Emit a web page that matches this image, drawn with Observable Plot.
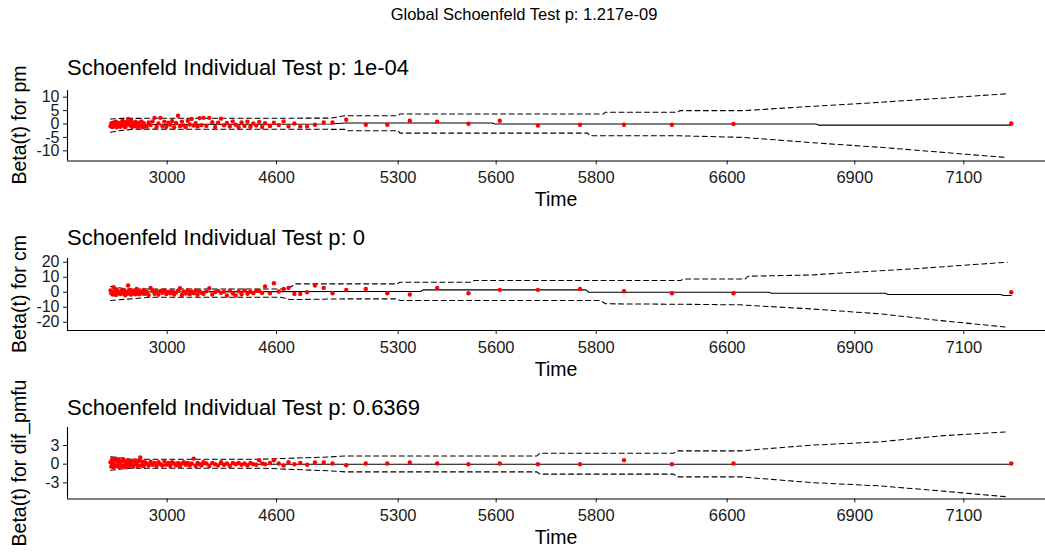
<!DOCTYPE html>
<html><head><meta charset="utf-8">
<script src="https://cdn.jsdelivr.net/npm/d3@7"></script>
<script src="https://cdn.jsdelivr.net/npm/@observablehq/plot@0.6"></script>
<style>
body{margin:0;background:#fff;}
#root{position:relative;width:1045px;height:552px;overflow:hidden;font-family:"Liberation Sans",Arial,sans-serif;background:#fff;color:#000;}
.abs{position:absolute;white-space:nowrap;line-height:1;}
#root svg{position:absolute;left:0;background:transparent !important;overflow:visible;}
</style></head><body><div id="root"></div>
<script>
// transformed (KM-scale) event times, 0..100 spans the panel width
const times = [4.40,4.48,4.56,4.64,4.72,4.80,4.88,4.96,5.04,5.12,
 5.20,5.30,5.40,5.50,5.60,5.70,5.80,5.90,6.00,6.10,
 6.20,6.30,6.40,6.50,6.60,6.72,6.84,6.96,7.08,7.20,
 7.32,7.44,7.56,7.68,7.80,7.92,
 8.10,8.30,8.50,8.70,8.90,9.10,9.30,9.50,9.70,9.90,
 10.10,10.30,10.50,10.70,10.90,11.10,11.30,11.50,11.70,11.90,
 12.10,12.30,12.50,12.70,12.90,13.10,13.30,13.50,13.70,13.90,
 14.2,14.5,14.8,15.1,15.4,15.7,16.0,16.3,16.6,16.9,
 17.2,17.5,17.8,18.1,18.4,18.7,19.0,19.3,19.6,19.9,
 20.2,20.7,21.1,21.6,22.1,22.6,23.2,23.8,24.5,25.3,
 26.2,27.1,28.5,30.5,32.7,35.0,37.8,41.0,44.2,48.1,
 52.4,56.9,61.8,68.1,96.5];

const residPm = [-0.8,0.3,-1.1,-0.4,0.6,-0.9,-0.2,0.9,-1.2,-0.5,
 0.4,-0.7,-1.0,0.2,1.1,-0.6,0.8,-1.2,-0.3,0.7,
 1.9,0.1,-0.5,1.3,-1.1,0.4,-0.8,0.8,-0.2,-1.0,
 0.5,-0.6,1.0,-1.2,0.3,-0.8,
 -0.9,0.6,-0.4,1.0,2.3,-1.1,0.2,2.3,-0.7,0.9,
 -1.0,0.5,-0.3,1.1,-1.2,0.4,3.1,-0.8,0.9,-0.5,
 -1.1,1.2,-0.2,1.9,-0.6,0.3,-0.9,2.2,-0.4,2.3,
 -0.7,2.3,0.7,-1.1,0.5,2.0,-0.5,0.4,-0.9,1.0,
 -0.3,-1.2,0.6,-0.7,0.9,-1.0,0.2,-0.6,0.8,-1.1,
 0.3,-0.8,0.5,-0.4,1.0,-0.9,0.2,-0.9,-0.9,-0.3,
 0.6,0.6,1.6,-0.3,-0.3,1.2,0.9,0.1,1.2,-0.6,
 -0.3,-0.3,-0.3,0.0,0.2];

const residCm = [1.2,-0.8,0.4,-1.5,3.3,-0.3,0.9,-1.8,1.8,-0.6,
 0.2,-0.6,-1.2,1.0,0.6,-0.9,1.4,-2.0,0.3,-1.1,
 4.5,-0.4,1.5,-1.6,0.7,-0.9,1.2,-1.3,2.2,0.5,
 -1.4,0.5,-0.5,-0.8,1.6,-1.0,
 0.2,-1.9,2.9,1.1,-1.0,0.6,-1.6,0.9,-0.3,1.3,
 -1.2,0.4,-0.7,0.8,-1.5,-0.2,1.0,2.7,-1.8,0.5,
 -0.9,1.4,-1.3,0.3,-0.6,1.2,-1.7,0.8,-0.4,-1.1,
 0.6,2.7,-1.5,0.2,0.9,-0.4,0.4,-2.2,1.1,-0.8,
 -2.2,0.6,-1.3,1.2,-1.0,0.3,-0.6,1.0,0.8,-0.5,
 3.8,-0.7,6.0,0.5,2.2,2.9,-1.1,-1.1,0.0,4.5,
 2.9,-0.7,1.6,2.2,-0.7,-1.5,2.9,-0.7,1.6,1.6,
 2.2,0.7,-0.7,-0.7,0.0];

const residDif = [0.3,-0.4,0.8,0.1,-0.5,0.6,-0.2,0.9,-0.3,0.4,
 0.7,-0.5,0.2,0.5,-0.3,0.8,-0.2,0.4,-0.5,0.6,
 0.1,-0.3,0.5,-0.1,0.4,-0.4,0.6,0.3,0.0,-0.3,
 0.5,1.07,-0.2,0.4,-0.3,0.3,
 0.1,-0.2,0.4,-0.1,0.2,-0.3,0.3,0.0,-0.2,0.5,
 -0.1,0.2,-0.3,0.3,0.1,-0.2,0.2,-0.3,0.1,0.3,
 -0.1,0.2,-0.2,0.1,0.9,-0.3,0.2,0.0,-0.2,0.3,
 0.1,-0.3,0.2,0.0,-0.2,0.3,-0.1,0.1,-0.3,0.2,
 0.0,0.2,-0.1,0.1,-0.2,0.2,0.0,-0.1,0.64,0.1,
 0.0,0.2,0.64,0.1,-0.2,0.3,0.0,0.2,-0.1,0.27,
 0.27,0.1,-0.16,0.1,0.1,0.27,0.1,0.0,0.1,0.0,
 0.0,0.64,0.0,0.1,0.1];

const tickPos = [10.19, 21.37, 33.81, 43.83, 54.06, 67.45, 80.50, 91.65];
const tickLabels = ["3000","4600","5300","5600","5800","6600","6900","7100"];

// smoothed beta(t) and its confidence band, [time, value]
const fitPm = [[4.4,-0.2],[26.9,0.0],[28.4,0.4],[43.4,0.4],[43.7,0.0],[76.5,0.0],[76.8,-0.4],[96.5,-0.4]];
const hiPm = [[4.4,1.9],[5.5,2.1],[26.9,2.2],[28.4,3.1],[33.8,3.1],[34.0,3.75],[54.8,3.75],[55.0,4.4],[62.4,4.4],[62.6,5.0],[69.1,5.0],[76.3,6.6],[83.5,8.2],[90.9,10.0],[96.1,11.3]];
const loPm = [[4.4,-3.1],[5.5,-2.4],[7.0,-1.9],[28.4,-2.0],[28.6,-2.5],[33.8,-2.5],[34.0,-3.4],[53.2,-3.4],[53.4,-4.4],[62.6,-4.4],[69.1,-5.0],[76.3,-7.0],[83.5,-8.8],[90.9,-11.0],[96.1,-12.5]];

const fitCm = [[4.4,0.2],[28.4,0.5],[36.1,0.5],[36.4,1.6],[53.0,1.6],[53.3,0.0],[71.7,0.0],[72.0,-0.7],[83.6,-0.7],[83.9,-1.5],[95.4,-1.5],[95.7,-2.2],[96.5,-2.2]];
const hiCm = [[4.4,3.8],[6.0,2.2],[22.5,2.2],[23.3,5.6],[33.7,5.6],[34.0,6.7],[41.2,6.7],[41.6,7.8],[62.7,7.8],[63.0,8.9],[69.3,8.9],[69.6,10.7],[76.0,11.5],[80.4,13.3],[87.4,16.0],[93.6,18.9],[96.1,20.0]];
const loCm = [[4.4,-5.5],[8.5,-3.3],[21.8,-3.3],[22.8,-4.9],[28.4,-4.4],[33.7,-4.4],[34.0,-5.5],[54.5,-5.5],[55.0,-7.7],[62.7,-8.0],[68.8,-8.4],[76.0,-11.1],[83.1,-14.4],[89.3,-18.9],[96.1,-23.3]];

const fitDif = [[4.4,0.0],[96.5,0.0]];
const hiDif = [[4.4,1.2],[6.5,0.8],[19.8,0.8],[26.9,1.17],[28.4,1.33],[48.0,1.33],[48.3,1.77],[62.0,1.77],[62.3,2.14],[68.8,2.14],[76.0,3.05],[83.1,3.6],[89.3,4.55],[96.1,5.2]];
const loDif = [[4.4,-0.96],[6.5,-0.64],[19.8,-0.64],[26.9,-1.08],[28.4,-1.24],[48.0,-1.24],[48.3,-1.6],[62.0,-1.6],[62.3,-2.04],[68.8,-2.04],[76.0,-2.95],[83.1,-3.5],[89.3,-4.3],[96.1,-5.25]];

const panels = [
  {name:"pm", p:"1e-04", resid:residPm, fit:fitPm, hi:hiPm, lo:loPm, yDomain:[-13.8,12.5], yTicks:[-10,-5,0,5,10], plotTop:90, plotH:70.5, titleBase:76},
  {name:"cm", p:"0", resid:residCm, fit:fitCm, hi:hiCm, lo:loCm, yDomain:[-25.5,22.5], yTicks:[-20,-10,0,10,20], plotTop:258, plotH:72, titleBase:245.8},
  {name:"dif_pmfu", p:"0.6369", resid:residDif, fit:fitDif, hi:hiDif, lo:loDif, yDomain:[-5.6,5.9], yTicks:[-3,0,3], plotTop:427, plotH:71.5, titleBase:415.8}
];

const root = document.getElementById("root");
const FONT = '"Liberation Sans", Arial, sans-serif';
const labelOf = new Map(tickPos.map((p,i)=>[p, tickLabels[i]]));
const W = 1045, ML = 67, MR = 0, MT = 5, MB = 60;
const toObj = a => a.map(([t,v]) => ({t, v}));

function addText(txt, css){
  const d = document.createElement("div");
  d.className = "abs";
  d.textContent = txt;
  Object.assign(d.style, css);
  root.appendChild(d);
  return d;
}

for (const cfg of panels) {
  const pts = times.map((t,i) => ({t, r: cfg.resid[i]}));
  const svg = Plot.plot({
    width: W, height: cfg.plotH + MT + MB,
    marginLeft: ML, marginRight: MR, marginTop: MT, marginBottom: MB,
    style: {fontFamily: FONT, fontSize: "16px", background: "transparent", overflow: "visible"},
    x: {domain: [0, 100]},
    y: {domain: cfg.yDomain},
    marks: [
      Plot.axisX({ticks: tickPos, tickFormat: d => labelOf.get(d), tickSize: 4, tickPadding: 6.5, fontSize: 16.5, color: "#1a1a1a", label: null}),
      Plot.axisY({ticks: cfg.yTicks, tickFormat: d => String(d), tickSize: 4, tickPadding: 4, fontSize: 16, color: "#1a1a1a", label: null}),
      Plot.ruleY([cfg.yDomain[0]], {stroke: "#000", strokeWidth: 1.1}),
      Plot.ruleX([0], {stroke: "#000", strokeWidth: 1.1}),
      Plot.line(toObj(cfg.hi), {x: "t", y: "v", stroke: "#000", strokeWidth: 1.05, strokeDasharray: "5,3.5"}),
      Plot.line(toObj(cfg.lo), {x: "t", y: "v", stroke: "#000", strokeWidth: 1.05, strokeDasharray: "5,3.5"}),
      Plot.line(toObj(cfg.fit), {x: "t", y: "v", stroke: "#000", strokeWidth: 1.1}),
      Plot.dot(pts, {x: "t", y: "r", r: 2.2, fill: "#FF0000", stroke: "none"})
    ]
  });
  svg.style.top = (cfg.plotTop - MT) + "px";
  root.appendChild(svg);

  const plotBottom = cfg.plotTop + cfg.plotH;
  addText("Schoenfeld Individual Test p: " + cfg.p, {left: "67px", top: (cfg.titleBase - 0.8465*22) + "px", fontSize: "22px"});
  addText("Time", {left: "556px", top: (plotBottom + 46.5 - 0.8465*19.5) + "px", fontSize: "19.5px", transform: "translateX(-50%)"});
  addText("Beta(t) for " + cfg.name, {left: "19.5px", top: (cfg.plotTop + cfg.plotH/2) + "px", fontSize: "19.5px", transform: "translate(-50%,-50%) rotate(-90deg)"});
}
addText("Global Schoenfeld Test p: 1.217e-09", {left: "524px", top: (20 - 0.8465*16.5) + "px", fontSize: "16.5px", transform: "translateX(-50%)"});
</script></body></html>
